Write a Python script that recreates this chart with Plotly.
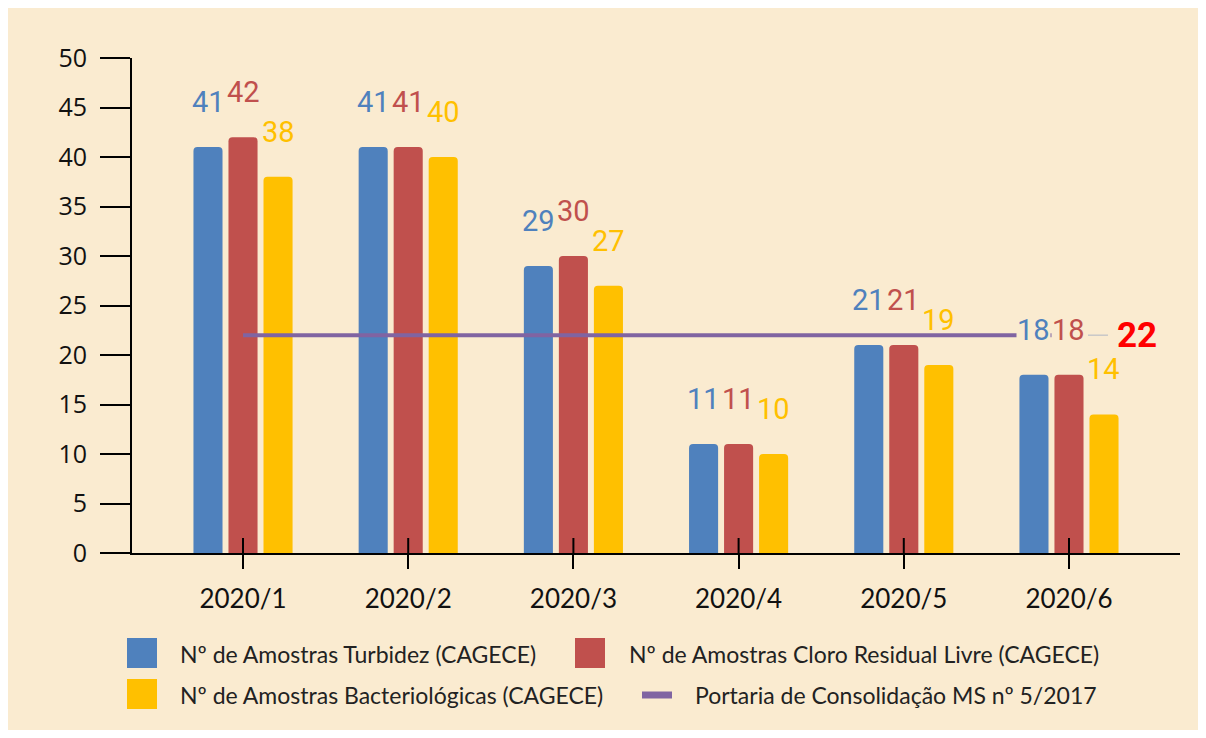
import plotly.graph_objects as go

# ---------------- data ----------------
categories = ["2020/1", "2020/2", "2020/3", "2020/4", "2020/5", "2020/6"]
turbidez = [41, 41, 29, 11, 21, 18]
cloro = [42, 41, 30, 11, 21, 18]
bacterio = [38, 40, 27, 10, 19, 14]
portaria = [22, 22, 22, 22, 22, 22]

series_names = [
    "Nº de Amostras Turbidez (CAGECE)",
    "Nº de Amostras Cloro Residual Livre (CAGECE)",
    "Nº de Amostras Bacteriológicas (CAGECE)",
]
line_name = "Portaria de Consolidação MS nº 5/2017"
y_ticks = [0, 5, 10, 15, 20, 25, 30, 35, 40, 45, 50]

# ---------------- style ----------------
BG = "#FAEBD0"
colors = ["#4F81BD", "#C0504D", "#FFC000"]
purple = "#8064A2"
OFF = 8  # page body margin in the browser
W, H = 1206 - 2 * OFF, 738 - 2 * OFF
L, T = 132 - OFF, 58 - OFF
R = W - (1180 - OFF)
B = H - (553 - OFF)
PW, PH = W - L - R, H - T - B


def px2paper_x(px):  # px in reference-image coordinates
    return (px - OFF - L) / PW


def px2paper_y(py):
    return (H - B - (py - OFF)) / PH


fig = go.Figure()
series_vals = [turbidez, cloro, bacterio]
for name, vals, c in zip(series_names, series_vals, colors):
    fig.add_trace(go.Bar(x=categories, y=vals, name=name, marker_color=c,
                         marker_line_width=0, showlegend=False))

fig.add_trace(go.Scatter(x=categories, y=portaria, mode="lines", name=line_name,
                         line=dict(color=purple, width=4), showlegend=False))

annotations = []
offsets = [-35, 0, 35]
for vals, c, off in zip(series_vals, colors, offsets):
    for k, (cat, v) in enumerate(zip(categories, vals)):
        a = dict(x=cat, y=v, text=str(v), showarrow=False,
                 xshift=off, yshift=45, yanchor="middle",
                 font=dict(family="Roboto", size=29, color=c))
        if k == len(categories) - 1:
            a.update(bgcolor=BG, borderpad=0)
        annotations.append(a)

# line value label
annotations.append(dict(x=categories[-1], y=portaria[-1], text="<b>%d</b>" % portaria[-1],
                        showarrow=False, xshift=68, yshift=0, yanchor="middle",
                        font=dict(family="Roboto", size=35, color="#FF0000")))

shapes = [
    # leader line for the "22" label
    dict(type="line", xref="x", yref="y", xsizemode="pixel", xanchor=categories[-1],
         x0=19, x1=39, y0=portaria[-1], y1=portaria[-1],
         line=dict(color="#C8C8C8", width=1.5)),
]
# upper part of the crossing x ticks
for cat in categories:
    shapes.append(dict(type="line", xref="x", yref="y", xsizemode="pixel", ysizemode="pixel",
                       xanchor=cat, yanchor=0, x0=0, x1=0, y0=0, y1=15,
                       line=dict(color="black", width=2), layer="above"))

# manual legend (large symbols as in the reference)
legend_font = dict(family="Lato", size=23, color="#222222")
leg_items = [
    (series_names[0], colors[0], "rect", 127, 638, 178, 654),
    (series_names[1], colors[1], "rect", 575, 638, 627, 654),
    (series_names[2], colors[2], "rect", 127, 679, 178, 695),
    (line_name, purple, "line", 642, 695, 693, 695),
]
for text, c, kind, sx, sy, tx, ty in leg_items:
    if kind == "rect":
        shapes.append(dict(type="rect", xref="paper", yref="paper",
                           x0=px2paper_x(sx), x1=px2paper_x(sx + 30),
                           y0=px2paper_y(sy), y1=px2paper_y(sy + 30),
                           fillcolor=c, line=dict(width=0)))
    else:
        shapes.append(dict(type="line", xref="paper", yref="paper",
                           x0=px2paper_x(sx), x1=px2paper_x(sx + 30),
                           y0=px2paper_y(sy), y1=px2paper_y(sy),
                           line=dict(color=c, width=7)))
    annotations.append(dict(xref="paper", yref="paper", x=px2paper_x(tx), y=px2paper_y(ty),
                            text=text, showarrow=False, xanchor="left", yanchor="middle",
                            font=legend_font))

fig.update_layout(
    width=W, height=H,
    margin=dict(l=L, r=R, t=T, b=B),
    paper_bgcolor=BG, plot_bgcolor="rgba(0,0,0,0)",
    barmode="group", bargap=0.364, bargroupgap=0.17, barcornerradius=4,
    showlegend=False,
    annotations=annotations, shapes=shapes,
    xaxis=dict(range=[-0.672, 5.672], showline=True, linecolor="black", linewidth=2,
               ticks="outside", ticklen=14, tickwidth=2, tickcolor="black",
               ticklabelstandoff=8, showgrid=False, zeroline=False,
               tickfont=dict(family="Lato", size=26, color="#111111")),
    yaxis=dict(range=[0, 50], tickvals=y_ticks, showline=True, linecolor="black",
               linewidth=2, ticks="outside", ticklen=30, tickwidth=2, tickcolor="black",
               ticklabelstandoff=8, showgrid=False, zeroline=False,
               tickfont=dict(family="Open Sans", size=25, color="#111111")),
)

fig.write_html("out.html")
